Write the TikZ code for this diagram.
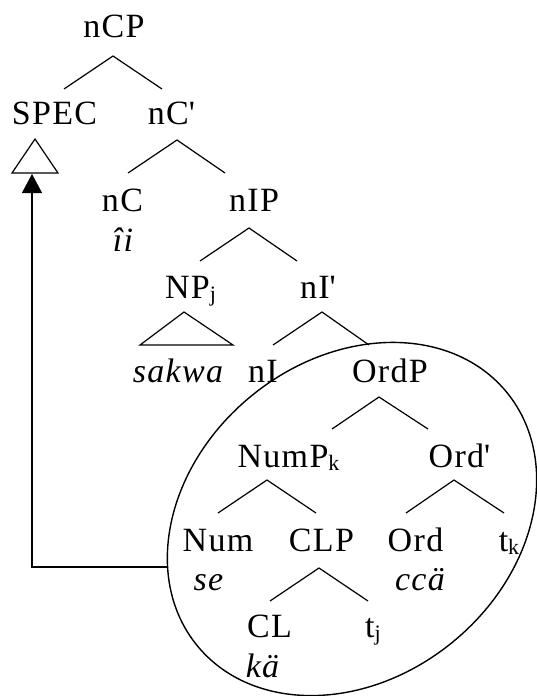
\documentclass[tikz,border=0pt]{standalone}
\usepackage{fontspec}
\setmainfont{Liberation Serif}[LetterSpace=4]
\usetikzlibrary{shapes.geometric,arrows.meta}
\newcommand\subs[1]{\raisebox{-3pt}{\fontsize{22}{24}\selectfont #1}}
\newcommand\br[3]{\draw[branch] (#2) -- (#1) -- (#3);}
\begin{document}
\begin{tikzpicture}[x=1pt,y=-1pt,
  lab/.style={anchor=base, inner sep=0pt, font=\fontsize{34}{38}\selectfont},
  gloss/.style={anchor=base, inner sep=0pt, font=\fontsize{34}{38}\selectfont\itshape},
  branch/.style={line width=1.2pt, line join=miter},
  tri/.style={line width=1.2pt},
  circl/.style={draw, ellipse, line width=1.4pt, inner sep=0pt},
  mover/.style={line width=1.4pt, -{Triangle[length=19pt,width=20pt]}}
]
\useasboundingbox (0,0) rectangle (536,696);
% labels
\node[lab] (nCP) at (114,37) {nCP};
\node[lab] (spec) at (54.5,124) {SPEC};
\node[lab] (nCbar) at (171.5,124) {nC\textquotesingle};
\node[lab] (nC) at (122.5,211) {nC};
\node[gloss] (ii) at (123,251) {îi};
\node[lab] (nIP) at (254,211) {nIP};
\node[lab] (NPj) at (190.5,298) {NP\subs{j}};
\node[lab] (nIbar) at (318,298) {nI\textquotesingle};
\node[gloss] (sakwa) at (178,382) {sakwa};
\node[lab] (nI) at (263,382) {nI};
\node[lab] (OrdP) at (390,382) {OrdP};
\node[lab] (NumP) at (288.5,467) {NumP\subs{k}};
\node[lab] (Ordbar) at (459.5,467) {Ord\textquotesingle};
\node[lab] (Num) at (218,551) {Num};
\node[gloss] (se) at (208.5,590) {se};
\node[lab] (CLP) at (321.5,551) {CLP};
\node[lab] (Ord) at (415.5,551) {Ord};
\node[gloss] (cca) at (420,590) {ccä};
\node[lab] (tk) at (509,551) {t\subs{k}};
\node[lab] (CL) at (269.5,637) {CL};
\node[gloss] (ka) at (262.5,677) {kä};
\node[lab] (tj) at (373,637) {t\subs{j}};
% branches
\br{113,56}{64,89}{162,89}
\br{177,140}{128,173}{225,173}
\br{249,228}{200,261}{297,261}
\br{322,312}{273,345}{369,345}
\br{379,397}{332,429}{428,429}
\br{267,480}{218,513}{316,513}
\br{454,480}{406,513}{504,513}
\br{319,568}{270,601}{368,601}
% triangles
\draw[tri] (35,139) -- (12,173) -- (58,173) -- cycle;
\draw[tri] (184,312) -- (140,345) -- (233,345) -- cycle;
% encircled subtree
\node[circl, rotate=39.3, minimum width=400pt, minimum height=318pt] (circ) at (352,519) {};
\coordinate (ellL) at (168,567);
\coordinate (arrowEnd) at (32,174);
\draw[mover] (ellL) -| (arrowEnd);
\end{tikzpicture}
\end{document}
